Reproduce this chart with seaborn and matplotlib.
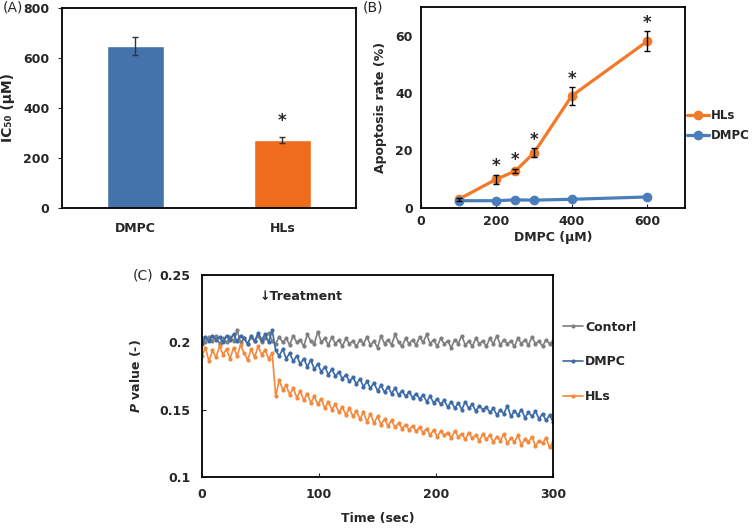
import numpy as np
import pandas as pd
import seaborn as sns
import matplotlib.pyplot as plt

# (A) IC50
groups = ['DMPC', 'HLs']
ic50 = [648, 271]
ic50_err = [36, 11]

# (B) apoptosis rate
conc = [100, 200, 250, 300, 400, 600]
hls_rate = [3.0, 10.0, 12.8, 19.2, 39.0, 58.0]
hls_rate_err = [0.5, 1.6, 0.8, 1.5, 3.0, 3.5]
dmpc_rate = [2.5, 2.5, 2.8, 2.7, 3.0, 3.8]
star_conc = [200, 250, 300, 400, 600]

# (C) P value time course, one reading every 3 sec
time_sec = list(range(0, 301, 3))
p_control = [
    0.203, 0.200, 0.204, 0.201, 0.205, 0.199, 0.203, 0.200, 0.204, 0.201, 0.209,
    0.200, 0.203, 0.199, 0.204, 0.201, 0.205, 0.200, 0.203, 0.207, 0.201,
    0.199, 0.204, 0.200, 0.203, 0.198, 0.205, 0.200, 0.202, 0.197, 0.206,
    0.201, 0.199, 0.208, 0.200, 0.203, 0.198, 0.204, 0.199, 0.202, 0.197,
    0.203, 0.199, 0.201, 0.197, 0.202, 0.199, 0.204, 0.198, 0.201, 0.196,
    0.205, 0.199, 0.202, 0.198, 0.206, 0.200, 0.197, 0.203, 0.199, 0.202,
    0.198, 0.204, 0.200, 0.206, 0.199, 0.202, 0.197, 0.203, 0.199, 0.201,
    0.196, 0.202, 0.199, 0.205, 0.198, 0.201, 0.197, 0.203, 0.199, 0.201,
    0.197, 0.203, 0.199, 0.205, 0.198, 0.202, 0.199, 0.201, 0.197, 0.203,
    0.199, 0.202, 0.198, 0.204, 0.199, 0.201, 0.197, 0.202, 0.199, 0.201]
p_dmpc = [
    0.199, 0.204, 0.201, 0.205, 0.202, 0.204, 0.200, 0.205, 0.202, 0.206, 0.201,
    0.205, 0.203, 0.199, 0.205, 0.201, 0.207, 0.202, 0.206, 0.200, 0.209,
    0.194, 0.190, 0.195, 0.188, 0.192, 0.186, 0.190, 0.184, 0.188, 0.182,
    0.187, 0.180, 0.184, 0.178, 0.182, 0.176, 0.180, 0.175, 0.178, 0.173,
    0.176, 0.171, 0.174, 0.169, 0.173, 0.167, 0.171, 0.166, 0.170, 0.164,
    0.168, 0.163, 0.167, 0.162, 0.166, 0.161, 0.164, 0.160, 0.163, 0.159,
    0.162, 0.158, 0.161, 0.156, 0.160, 0.155, 0.158, 0.154, 0.157, 0.152,
    0.156, 0.151, 0.155, 0.150, 0.156, 0.151, 0.154, 0.149, 0.153, 0.150,
    0.152, 0.148, 0.151, 0.146, 0.150, 0.147, 0.153, 0.145, 0.149, 0.146,
    0.150, 0.144, 0.148, 0.145, 0.149, 0.143, 0.147, 0.142, 0.146, 0.141]
p_hls = [
    0.190, 0.196, 0.186, 0.194, 0.189, 0.197, 0.191, 0.195, 0.188, 0.196,
    0.190, 0.198, 0.192, 0.187, 0.195, 0.189, 0.197, 0.191, 0.194, 0.188, 0.192,
    0.160, 0.172, 0.165, 0.168, 0.161, 0.166, 0.159, 0.164, 0.157, 0.162,
    0.155, 0.160, 0.154, 0.158, 0.151, 0.156, 0.150, 0.154, 0.148, 0.152,
    0.146, 0.151, 0.145, 0.149, 0.143, 0.148, 0.141, 0.147, 0.140, 0.145,
    0.139, 0.143, 0.138, 0.142, 0.137, 0.140, 0.136, 0.139, 0.135, 0.138,
    0.134, 0.137, 0.133, 0.136, 0.131, 0.135, 0.130, 0.134, 0.131, 0.133,
    0.129, 0.134, 0.130, 0.132, 0.128, 0.133, 0.129, 0.131, 0.127, 0.132,
    0.128, 0.131, 0.126, 0.130, 0.127, 0.132, 0.125, 0.129, 0.126, 0.131,
    0.124, 0.128, 0.126, 0.130, 0.123, 0.127, 0.125, 0.129, 0.122, 0.126]

BLUE = '#4472AA'
ORANGE = '#EE6C1C'
LBLUE = '#4A7EBB'
LORANGE = '#F07A2A'

sns.set_style('ticks')
plt.rcParams['font.family'] = ['DejaVu Sans']
plt.rcParams['font.weight'] = 'bold'
plt.rcParams['font.size'] = 9
plt.rcParams['axes.labelweight'] = 'bold'
plt.rcParams['axes.linewidth'] = 1.3
plt.rcParams['axes.edgecolor'] = 'black'
plt.rcParams['mathtext.fontset'] = 'custom'
plt.rcParams['mathtext.it'] = 'DejaVu Sans:italic:bold'
plt.rcParams['mathtext.rm'] = 'DejaVu Sans:bold'

fig = plt.figure(figsize=(7.55, 5.29), dpi=100)
ax_a = fig.add_axes([0.082, 0.607, 0.3895, 0.378])
ax_b = fig.add_axes([0.5576, 0.607, 0.3494, 0.380])
ax_c = fig.add_axes([0.2675, 0.0983, 0.465, 0.3817])

# * (A) IC50 bars
sns.barplot(x=groups, y=ic50, hue=groups, palette=[BLUE, ORANGE],
            width=0.39, legend=False, ax=ax_a, saturation=1)
ax_a.errorbar(range(len(groups)), ic50, yerr=ic50_err, fmt='none',
              ecolor='#333333', elinewidth=1, capsize=2.5)
ax_a.text(1, ic50[1] + ic50_err[1] + 30, '*', ha='center', va='bottom', fontsize=12)
ax_a.set_xlim(-0.5, 1.5)
ax_a.set_ylim(0, 800)
ax_a.set_yticks([0, 200, 400, 600, 800])
ax_a.set_ylabel('IC₅₀ (μM)', fontsize=10)
ax_a.yaxis.set_label_coords(-0.16, 0.5)
ax_a.tick_params(axis='x', length=0, pad=10)
ax_a.tick_params(axis='y', direction='out', length=3, pad=6)
for s in ax_a.spines.values():
    s.set_visible(True)
ax_a.set_xlabel('')

# * (B) apoptosis rate
sns.lineplot(x=conc, y=hls_rate, color=LORANGE, marker='o', markersize=7,
             markeredgewidth=0, linewidth=2.3, label='HLs', ax=ax_b)
ax_b.errorbar(conc, hls_rate, yerr=hls_rate_err, fmt='none', ecolor='black',
              elinewidth=1, capsize=2.5, zorder=5)
sns.lineplot(x=conc, y=dmpc_rate, color=LBLUE, marker='o', markersize=7,
             markeredgewidth=0, linewidth=2.3, label='DMPC', ax=ax_b)
for c in star_conc:
    i = conc.index(c)
    ax_b.text(c, hls_rate[i] + hls_rate_err[i] + 3.0, '*', ha='center',
              va='center', fontsize=12)
ax_b.set_xlim(0, 700)
ax_b.set_ylim(0, 70)
ax_b.set_xticks([0, 200, 400, 600])
ax_b.set_yticks([0, 20, 40, 60])
ax_b.set_xlabel('DMPC (μM)', labelpad=2)
ax_b.set_ylabel('Apoptosis rate (%)', labelpad=6)
ax_b.tick_params(axis='x', direction='in', length=3, pad=5)
ax_b.tick_params(axis='y', direction='out', length=0, pad=6)
ax_b.legend(loc='center left', bbox_to_anchor=(1.0, 0.41), frameon=False,
            borderaxespad=0.05, borderpad=0.1, handlelength=1.9,
            handletextpad=0.15, labelspacing=0.6, fontsize=8.5)

# * (C) P value time course
df_c = pd.DataFrame({
    'time': time_sec * 3,
    'p': p_control + p_dmpc + p_hls,
    'group': ['Contorl'] * len(time_sec) + ['DMPC'] * len(time_sec) + ['HLs'] * len(time_sec),
})
sns.lineplot(data=df_c, x='time', y='p', hue='group',
             palette={'Contorl': '#7F7F7F', 'DMPC': '#3D6BA8', 'HLs': '#F5883B'},
             marker='o', markersize=3.0, markeredgewidth=0, linewidth=1.2, ax=ax_c)
ax_c.text(49, 0.234, '↓Treatment', ha='left', va='center', fontsize=9)
ax_c.set_xlim(0, 300)
ax_c.set_ylim(0.1, 0.25)
ax_c.set_xticks([0, 100, 200, 300])
ax_c.set_yticks([0.1, 0.15, 0.2, 0.25])
ax_c.set_yticklabels(['0.1', '0.15', '0.2', '0.25'])
ax_c.set_xlabel('Time (sec)', labelpad=8)
ax_c.set_ylabel('$P$ value (-)', labelpad=12)
ax_c.tick_params(axis='both', direction='in', length=3)
ax_c.tick_params(axis='x', pad=8)
ax_c.tick_params(axis='y', pad=8)
ax_c.legend(loc='center left', bbox_to_anchor=(1.0, 0.57), frameon=False,
            borderaxespad=0.4, handlelength=1.6, handletextpad=0.15,
            labelspacing=1.75, fontsize=9)

fig.text(0.003, 0.985, '(A)', fontsize=10, fontweight='normal', va='center')
fig.text(0.480, 0.985, '(B)', fontsize=10, fontweight='normal', va='center')
fig.text(0.176, 0.48, '(C)', fontsize=10, fontweight='normal', va='center')

fig.savefig('out.png', dpi=100)
